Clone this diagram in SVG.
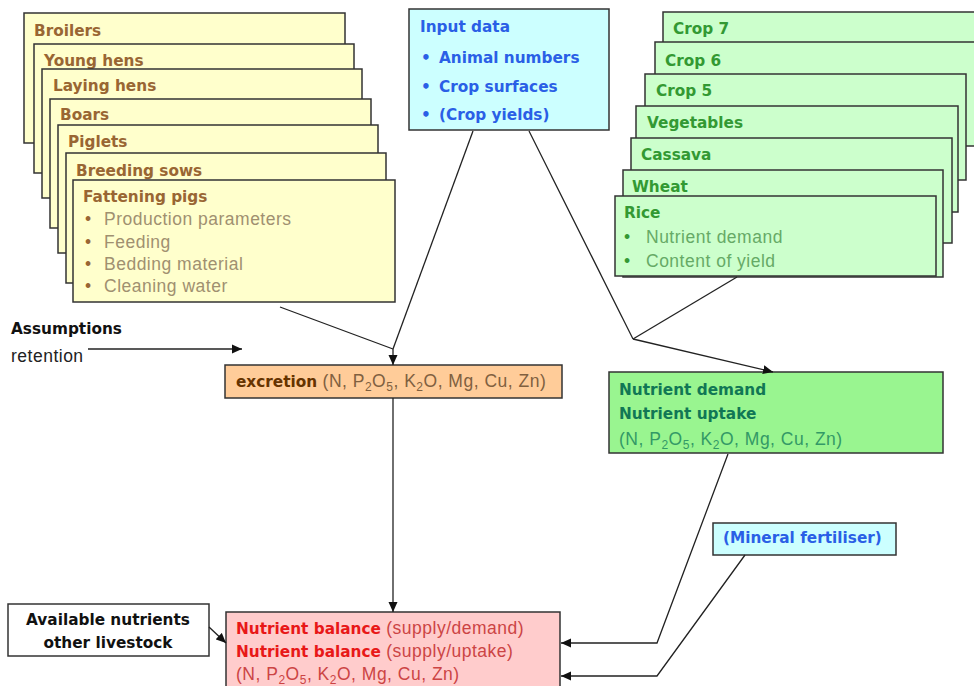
<svg xmlns="http://www.w3.org/2000/svg" width="974" height="686" viewBox="0 0 974 686">
<defs>
<marker id="ah" viewBox="0 0 10 10" refX="10" refY="5" markerWidth="10" markerHeight="10" markerUnits="userSpaceOnUse" orient="auto">
<path d="M0,0.5 L10,5 L0,9.5 Z" fill="#111"/>
</marker>
<style>
.box{stroke:#333;stroke-width:1.5}
.y{fill:#ffffcc}
.g{fill:#ccffcc}
.c{fill:#ccffff}
.b{font-family:"DejaVu Sans",Verdana,sans-serif;font-weight:bold;font-size:15.3px}
.r{font-family:"Liberation Sans",Arial,sans-serif;font-size:17.5px;letter-spacing:0.5px}
.yt{fill:#996633}
.yr{fill:#a09070}
.gt{fill:#339933}
.gr{fill:#66aa66}
.bt{fill:#2a5fe6}
.ln{fill:none;stroke:#222;stroke-width:1.3}
</style>
</defs>
<rect width="974" height="686" fill="#ffffff"/>

<g id="livestock">
<g id="broilers"><rect class="box y" x="24" y="13" width="321" height="130"/><text class="b yt" x="34" y="36">Broilers</text></g>
<g id="young-hens"><rect class="box y" x="34" y="44" width="320" height="129"/><text class="b yt" x="44" y="66">Young hens</text></g>
<g id="laying-hens"><rect class="box y" x="42" y="69" width="320" height="129"/><text class="b yt" x="53" y="91">Laying hens</text></g>
<g id="boars"><rect class="box y" x="50" y="99" width="321" height="129"/><text class="b yt" x="60" y="120">Boars</text></g>
<g id="piglets"><rect class="box y" x="58" y="125" width="320" height="128"/><text class="b yt" x="68" y="147">Piglets</text></g>
<g id="breeding-sows"><rect class="box y" x="66" y="153" width="320" height="130"/><text class="b yt" x="76" y="176">Breeding sows</text></g>
<g id="fattening-pigs"><rect class="box y" x="73" y="180" width="322" height="122"/>
<text class="b yt" x="83" y="202">Fattening pigs</text>
<text class="r yr" x="85" y="225"><tspan class="yt">•</tspan></text><text class="r yr" x="104" y="225">Production parameters</text>
<text class="r yr" x="85" y="248"><tspan class="yt">•</tspan></text><text class="r yr" x="104" y="248">Feeding</text>
<text class="r yr" x="85" y="270"><tspan class="yt">•</tspan></text><text class="r yr" x="104" y="270">Bedding material</text>
<text class="r yr" x="85" y="292"><tspan class="yt">•</tspan></text><text class="r yr" x="104" y="292">Cleaning water</text>
</g>
</g>

<g id="input-data"><rect class="box c" x="409" y="9" width="200" height="121"/>
<text class="b bt" x="420" y="32">Input data</text>
<text class="b bt" x="421" y="63">•</text><text class="b bt" x="439" y="63">Animal numbers</text>
<text class="b bt" x="421" y="92">•</text><text class="b bt" x="439" y="92">Crop surfaces</text>
<text class="b bt" x="421" y="120">•</text><text class="b bt" x="439" y="120">(Crop yields)</text>
</g>

<g id="crops">
<g id="crop7"><rect class="box g" x="663" y="12" width="340" height="106"/><text class="b gt" x="673" y="34">Crop 7</text></g>
<g id="crop6"><rect class="box g" x="655" y="42" width="340" height="104"/><text class="b gt" x="665" y="66">Crop 6</text></g>
<g id="crop5"><rect class="box g" x="645" y="74" width="321" height="106"/><text class="b gt" x="656" y="96">Crop 5</text></g>
<g id="vegetables"><rect class="box g" x="636" y="106" width="322" height="106"/><text class="b gt" x="647" y="128">Vegetables</text></g>
<g id="cassava"><rect class="box g" x="631" y="138" width="321" height="105"/><text class="b gt" x="641" y="160">Cassava</text></g>
<g id="wheat"><rect class="box g" x="623" y="170" width="320" height="107"/><text class="b gt" x="632" y="192">Wheat</text></g>
<g id="rice"><rect class="box g" x="615" y="196" width="321" height="80"/>
<text class="b gt" x="624" y="218">Rice</text>
<text class="r gr" x="624" y="243"><tspan class="gt">•</tspan></text><text class="r gr" x="646" y="243">Nutrient demand</text>
<text class="r gr" x="624" y="267"><tspan class="gt">•</tspan></text><text class="r gr" x="646" y="267">Content of yield</text>
</g>
</g>

<g id="assumptions">
<text class="b" x="11" y="334" fill="#111">Assumptions</text>
<text class="r" x="11" y="362" fill="#222">retention</text>
</g>

<g id="excretion"><rect class="box" x="225" y="365" width="337" height="33" fill="#ffcc99"/>
<text x="236" y="387"><tspan class="b" fill="#663300">excretion</tspan><tspan class="r" fill="#806040"> (N, P<tspan font-size="12" dy="4">2</tspan><tspan dy="-4">O</tspan><tspan font-size="12" dy="4">5</tspan><tspan dy="-4">, K</tspan><tspan font-size="12" dy="4">2</tspan><tspan dy="-4">O, Mg, Cu, Zn)</tspan></tspan></text>
</g>

<g id="nutrient-demand"><rect class="box" x="609" y="372" width="334" height="81" fill="#99f590"/>
<text class="b" x="619" y="395" fill="#117755">Nutrient demand</text>
<text class="b" x="619" y="419" fill="#117755">Nutrient uptake</text>
<text class="r" x="619" y="445" fill="#339966">(N, P<tspan font-size="12" dy="4">2</tspan><tspan dy="-4">O</tspan><tspan font-size="12" dy="4">5</tspan><tspan dy="-4">, K</tspan><tspan font-size="12" dy="4">2</tspan><tspan dy="-4">O, Mg, Cu, Zn)</tspan></text>
</g>

<g id="mineral-fertiliser"><rect class="box c" x="713" y="523" width="183" height="32"/>
<text class="b bt" x="723" y="543">(Mineral fertiliser)</text>
</g>

<g id="available-nutrients"><rect class="box" x="8" y="604" width="201" height="52" fill="#ffffff"/>
<text class="b" x="108" y="625" text-anchor="middle" fill="#111">Available nutrients</text>
<text class="b" x="108" y="648" text-anchor="middle" fill="#111">other livestock</text>
</g>

<g id="nutrient-balance"><rect class="box" x="226" y="612" width="334" height="90" fill="#ffcccc"/>
<text x="236" y="634"><tspan class="b" fill="#e81818">Nutrient balance</tspan><tspan class="r" fill="#cc4444"> (supply/demand)</tspan></text>
<text x="236" y="657"><tspan class="b" fill="#e81818">Nutrient balance</tspan><tspan class="r" fill="#cc4444"> (supply/uptake)</tspan></text>
<text class="r" x="236" y="680" fill="#cc4444">(N, P<tspan font-size="12" dy="4">2</tspan><tspan dy="-4">O</tspan><tspan font-size="12" dy="4">5</tspan><tspan dy="-4">, K</tspan><tspan font-size="12" dy="4">2</tspan><tspan dy="-4">O, Mg, Cu, Zn)</tspan></text>
</g>

<g id="connectors">
<line class="ln" x1="280" y1="307" x2="393" y2="349"/>
<line class="ln" x1="473" y1="131" x2="393" y2="349"/>
<line class="ln" x1="393" y1="349" x2="393" y2="365" marker-end="url(#ah)"/>
<line class="ln" x1="88" y1="349" x2="242" y2="349" marker-end="url(#ah)"/>
<line class="ln" x1="529" y1="131" x2="633" y2="339"/>
<line class="ln" x1="737" y1="277" x2="633" y2="339"/>
<line class="ln" x1="633" y1="339" x2="773" y2="372" marker-end="url(#ah)"/>
<line class="ln" x1="393" y1="398" x2="393" y2="612" marker-end="url(#ah)"/>
<line class="ln" x1="209" y1="627" x2="226" y2="643" marker-end="url(#ah)"/>
<polyline class="ln" points="728,454 657,643 561,643" marker-end="url(#ah)"/>
<polyline class="ln" points="745,555 657,676 561,676" marker-end="url(#ah)"/>
</g>
</svg>
